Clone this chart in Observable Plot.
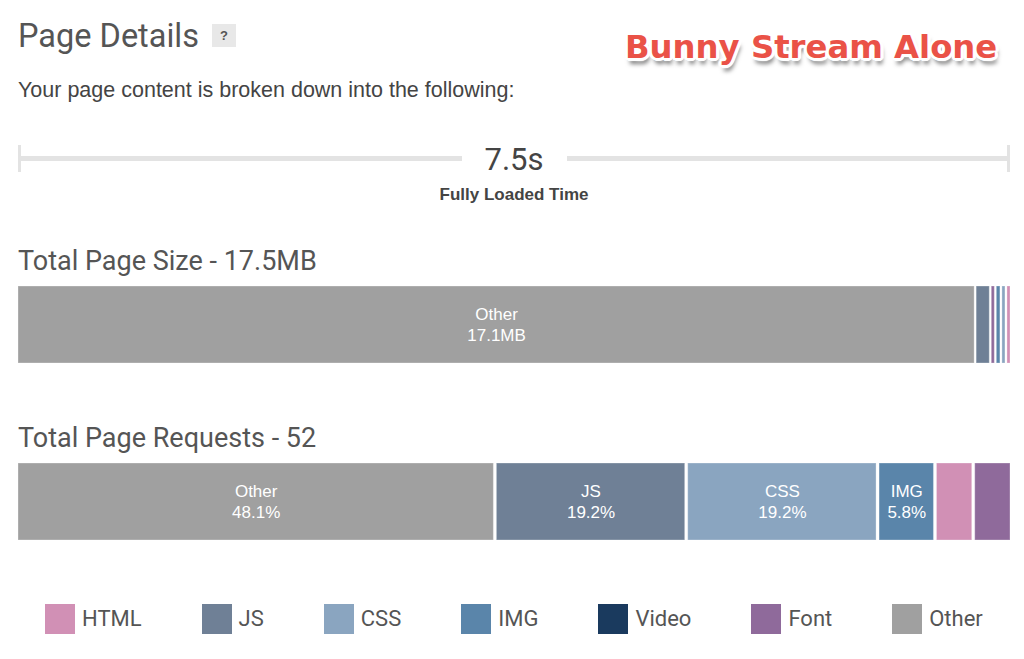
<!DOCTYPE html>
<html><head><meta charset="utf-8">
<script src="https://cdn.jsdelivr.net/npm/d3@7"></script>
<script src="https://cdn.jsdelivr.net/npm/@observablehq/plot@0.6"></script>
<style>
body{margin:0;background:#fff;}
#wrap{position:relative;width:1024px;height:659px;overflow:hidden;font-family:Roboto,sans-serif;color:#555;}
.abs{position:absolute;white-space:nowrap;line-height:1;}
.title{left:18px;top:20px;font-size:32.5px;color:#555;}
.help{left:212px;top:24px;width:24px;height:23px;background:#e8e8e8;font:bold 13px "Liberation Sans",Arial,sans-serif;color:#555;text-align:center;line-height:23px;}
.sub{left:18px;top:78px;font:21.5px "Liberation Sans",Arial,sans-serif;color:#444;}
.stamp{left:625px;top:28px;font:bold 32.3px "DejaVu Sans",sans-serif;color:#ea5247;
 text-shadow:0 0 2px #fff,3px 0 0 #fff,-3px 0 0 #fff,0 3px 0 #fff,0 -3px 0 #fff,2px 2px 0 #fff,-2px -2px 0 #fff,2px -2px 0 #fff,-2px 2px 0 #fff,3px 1px 1px #fff,-3px 1px 1px #fff,1px 3px 1px #fff,1px -3px 1px #fff,2px 6px 4px rgba(0,0,0,0.5);}
.tline{position:absolute;background:#e3e3e3;}
.time{left:414px;width:200px;top:144px;font-size:31px;color:#444;text-align:center;}
.tlabel{left:364px;width:300px;top:184.5px;font:bold 17px "Liberation Sans",Arial,sans-serif;color:#444;text-align:center;}
.h2{left:18px;font-size:27px;color:#555;}
.bar{position:absolute;left:0;}
.lg-swatches{font-family:Roboto,sans-serif !important;font-size:22px !important;color:#555;margin:0 !important;flex-wrap:nowrap !important;width:990px;}
.lg-swatch{margin-right:60px !important;}
.lg-swatch svg{margin-right:7px !important;}
</style></head>
<body><div id="wrap">
<div class="abs title">Page Details</div>
<div class="abs help">?</div>
<div class="abs stamp">Bunny Stream Alone</div>
<div class="abs sub">Your page content is broken down into the following:</div>
<div class="tline" style="left:18px;top:156px;width:444px;height:5px"></div>
<div class="tline" style="left:567px;top:156px;width:443px;height:5px"></div>
<div class="tline" style="left:18px;top:145px;width:3px;height:27px"></div>
<div class="tline" style="left:1007px;top:145px;width:3px;height:27px"></div>
<div class="abs time" id="time"></div>
<div class="abs tlabel">Fully Loaded Time</div>
<div class="abs h2" id="h-size" style="top:248px"></div>
<div class="bar" id="size" style="top:286px"></div>
<div class="abs h2" id="h-req" style="top:425px"></div>
<div class="bar" id="req" style="top:463px"></div>
<div class="bar" id="legend" style="top:602px;left:45px"></div>
</div>
<script>
// Legend categories and colours
const categories = ["HTML", "JS", "CSS", "IMG", "Video", "Font", "Other"];
const colors = ["#d190b5", "#6f8096", "#8aa5c0", "#5a85aa", "#1a3a5e", "#8f6a9b", "#a0a0a0"];

// Fully loaded time (s)
const loadTime = 7.5;

// Total page size (MB) by type, in bar order
const totalSizeMB = 17.5;
const sizeTypes = ["Other", "JS", "Font", "IMG", "CSS", "HTML"];
const sizeMB = [17.1, 0.27, 0.09, 0.1, 0.09, 0.09];
const sizeValueLabels = ["17.1MB", null, null, null, null, null];

// Total page requests by type, in bar order
const totalRequests = 52;
const requestTypes = ["Other", "JS", "CSS", "IMG", "HTML", "Font"];
const requestCounts = [25, 10, 10, 3, 2, 2];

document.getElementById("time").textContent = loadTime + "s";
document.getElementById("h-size").textContent = "Total Page Size - " + totalSizeMB + "MB";
document.getElementById("h-req").textContent = "Total Page Requests - " + totalRequests;

const colorScale = {domain: categories, range: colors};

const sizeData = sizeTypes.map((t, i) => ({type: t, value: sizeMB[i], label: sizeValueLabels[i] ? t + "\n" + sizeValueLabels[i] : ""}));
const reqData = requestTypes.map((t, i) => {
  const pct = requestCounts[i] / totalRequests * 100;
  return {type: t, value: requestCounts[i], label: pct >= 5 ? t + "\n" + pct.toFixed(1) + "%" : ""};
});

function stackedBar(data, total, gap) {
  return Plot.plot({
    width: 1024, height: 77,
    marginLeft: 18, marginRight: 14 - gap, marginTop: 0, marginBottom: 0,
    x: {axis: null, domain: [0, total]},
    color: colorScale,
    style: {background: "transparent"},
    marks: [
      Plot.barX(data, Plot.stackX({x: "value", fill: "type", insetRight: gap, stroke: "white", strokeOpacity: 0.3, strokeWidth: 1, order: null})),
      Plot.text(data, Plot.stackX({x: "value", text: "label", fill: "white", fontSize: 17, lineHeight: 1.2, fontFamily: "Liberation Sans, Arial, sans-serif", dx: -gap / 2, dy: -1, order: null}))
    ]
  });
}

document.getElementById("size").appendChild(stackedBar(sizeData, d3.sum(sizeMB), 2));
document.getElementById("req").appendChild(stackedBar(reqData, totalRequests, 3));
document.getElementById("legend").appendChild(Plot.legend({color: colorScale, swatchSize: 30, className: "lg"}));
</script>
</body></html>
